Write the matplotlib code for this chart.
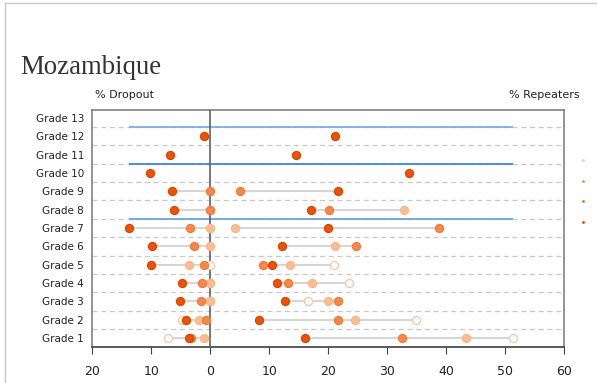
import matplotlib
matplotlib.use("Agg")
import matplotlib.pyplot as plt
from matplotlib.lines import Line2D
import numpy as np

grades = ["Grade 1", "Grade 2", "Grade 3", "Grade 4", "Grade 5", "Grade 6", "Grade 7",
          "Grade 8", "Grade 9", "Grade 10", "Grade 11", "Grade 12", "Grade 13"]

# dropout values (plotted on the negative side), four series from darkest to lightest
dropout_s1 = [3.6, 4.1, 5.2, 4.75, 10.0, 9.85, 13.75, 6.2, 6.5, 10.3, 6.9, 1.1, None]
dropout_s2 = [3.2, 0.75, 1.6, 1.4, 1.1, 2.7, 3.5, 0.0, 0.0, None, None, None, None]
dropout_s3 = [1.1, 1.9, 0.0, 0.0, 3.6, 0.0, 0.0, 0.0, None, None, None, None, None]
dropout_s4 = [7.2, 4.8, 0.0, 0.0, 0.0, None, None, None, None, None, None, None, None]

# repeater values
repeat_s1 = [16.1, 8.2, 12.6, 11.3, 10.5, 12.1, 20.0, 17.0, 21.6, 33.7, 14.5, 21.2, None]
repeat_s2 = [32.5, 21.6, 21.6, 13.1, 9.0, 24.7, 38.7, 20.2, 5.0, None, None, None, None]
repeat_s3 = [43.3, 24.6, 20.0, 17.3, 13.5, 21.1, 4.2, 32.8, None, None, None, None, None]
repeat_s4 = [51.3, 34.9, 16.6, 23.5, 20.9, None, None, None, None, None, None, None, None]

# reference lines (grade positions between rows), x extent
ref_rows = [12.5, 10.5, 7.5]
ref_extent = [-13.7, 51.3]

xticks = [-20, -10, 0, 10, 20, 30, 40, 50, 60]
xticklabels = ["20", "10", "0", "10", "20", "30", "40", "50", "60"]

fills = ["#EC5208", "#F7874A", "#FDBD92", "#FFFFFF"]
edges = ["#D94600", "#EF7A3A", "#FBB585", "#FDC59A"]

fig = plt.figure(figsize=(5.97, 3.83), dpi=100)
# partial page frame (left and top edges)
fig.add_artist(Line2D([5 / 597, 5 / 597], [0, 1 - 3 / 383], color="#C8C8C8", lw=1.0,
                      transform=fig.transFigure))
fig.add_artist(Line2D([5 / 597, 1], [1 - 3 / 383, 1 - 3 / 383], color="#C8C8C8", lw=1.0,
                      transform=fig.transFigure))
ax = fig.add_axes([92.3 / 597, 1 - 347.3 / 383, (564.3 - 92.3) / 597, (347.3 - 110) / 383])

y = np.arange(1, len(grades) + 1)

# dashed grid lines between rows
for g in np.arange(1.5, 13.0, 1.0):
    ax.axhline(g, color="#C8C8C8", lw=0.9, ls=(0, (4, 3)), zorder=1)

# blue reference lines
blues = ["#7EAEDD", "#3F86D0", "#6FA4DA"]
for r, c in zip(ref_rows, blues):
    ax.plot(ref_extent, [r, r], color=c, lw=1.3, zorder=2, solid_capstyle="butt")

drop_series = [dropout_s1, dropout_s2, dropout_s3, dropout_s4]
rep_series = [repeat_s1, repeat_s2, repeat_s3, repeat_s4]

# connecting lines
for i in range(len(grades)):
    dv = [-s[i] for s in drop_series if s[i] is not None]
    rv = [s[i] for s in rep_series if s[i] is not None]
    if len(dv) > 1:
        ax.plot([min(dv), max(dv)], [y[i], y[i]], color="#D6D6D6", lw=1.5, zorder=3,
                solid_capstyle="butt")
    if len(rv) > 1:
        ax.plot([min(rv), max(rv)], [y[i], y[i]], color="#D6D6D6", lw=1.5, zorder=3,
                solid_capstyle="butt")

ax.axvline(0, color="#606060", lw=1.2, zorder=4)

# points: lightest first so darkest is on top
for k in [3, 2, 1, 0]:
    for series, sign in ((drop_series[k], -1), (rep_series[k], 1)):
        xs = [sign * v for v in series if v is not None]
        ys = [y[i] for i, v in enumerate(series) if v is not None]
        ax.plot(xs, ys, ls="none", marker="o", ms=5.8, mfc=fills[k], mec=edges[k],
                mew=0.9, zorder=5 + (3 - k))

ax.set_xlim(-20, 60)
ax.set_ylim(0.5, 13.43)
ax.set_xticks(xticks)
ax.set_xticklabels(xticklabels, fontsize=9, color="#222222")
ax.set_yticks(y)
ax.set_yticklabels(grades, fontsize=7.5, color="#222222")
ax.tick_params(axis="y", length=0, pad=6)
ax.tick_params(axis="x", length=5, color="#404040", pad=8)
for s in ax.spines.values():
    s.set_color("#808080")
    s.set_linewidth(1.2)
ax.spines["bottom"].set_color("#404040")

fig.text(20 / 597, 1 - 74 / 383, "Mozambique", fontsize=19.3, family="Liberation Serif",
         color="#333333", va="baseline", ha="left")
fig.text(95 / 597, 1 - 95 / 383, "% Dropout", fontsize=8, color="#222222", va="center", ha="left")
fig.text(580 / 597, 1 - 95 / 383, "% Repeaters", fontsize=8, color="#222222", va="center", ha="right")

# tiny clipped legend remnants at the right edge
for yy, c in zip([160, 181, 201, 222], ["#FDC59A", "#F7874A", "#EE6A20", "#D94A00"]):
    fig.add_artist(Line2D([583 / 597], [1 - yy / 383], marker="s", ms=0.9, color=c,
                          mec=c, transform=fig.transFigure))

fig.savefig("out.png", dpi=100)
